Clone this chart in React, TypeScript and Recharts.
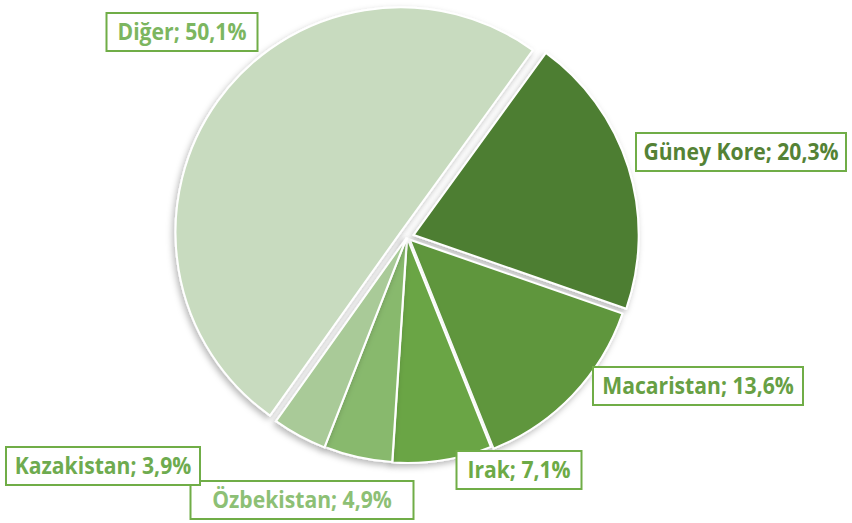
import React from "react";
import { PieChart, Pie, Cell, Sector } from "recharts";

// countries in clockwise order, starting at the top-right
const COUNTRIES = ["Güney Kore", "Macaristan", "Irak", "Özbekistan", "Kazakistan", "Diğer"];
const SHARES = [20.3, 13.6, 7.1, 4.9, 3.9, 50.1];

const SLICE_COLORS = ["#4E7E32", "#5E963C", "#6AA544", "#88B96D", "#A9CA98", "#C8DBBF"];
const TEXT_COLORS = ["#548235", "#67A044", "#6DAA46", "#8DC075", "#6EAB4F", "#7CB660"];
// how far each slice is pulled out from the centre
const EXPLODE = [7, 4, 1, 0.5, 1, 8];
// label boxes: centre offset from pie centre, box width
const LABEL_BOX = [
  { dx: 334, dy: -85, w: 210 },
  { dx: 291, dy: 149, w: 210 },
  { dx: 112, dy: 233, w: 125 },
  { dx: -105, dy: 263, w: 223 },
  { dx: -304, dy: 229, w: 194 },
  { dx: -225, dy: -205, w: 151 },
];
// Open Sans is wider than the original Calibri, so squeeze it a bit
const TEXT_SCALE_X = 0.92;

const data = COUNTRIES.map((name, i) => ({ name, value: SHARES[i] }));
const RADIAN = Math.PI / 180;

const sliceIndex = (props: any) => {
  const n = props.name ?? props.payload?.name;
  const i = COUNTRIES.indexOf(n);
  return i >= 0 ? i : props.index ?? 0;
};

const ExplodedSector = (props: any) => {
  const i = sliceIndex(props);
  const off = EXPLODE[i] ?? 0;
  const dx = off * Math.cos(-props.midAngle * RADIAN);
  const dy = off * Math.sin(-props.midAngle * RADIAN);
  return (
    <Sector
      {...props}
      cx={props.cx + dx}
      cy={props.cy + dy}
      filter="url(#pieShadow)"
    />
  );
};

const renderLabel = (props: any) => {
  const i = sliceIndex(props);
  const box = LABEL_BOX[i];
  const x = props.cx + box.dx;
  const y = props.cy + box.dy;
  const text = `${COUNTRIES[i]}; ${SHARES[i].toFixed(1).replace(".", ",")}%`;
  return (
    <g key={`lbl-${i}`}>
      <rect
        x={x - box.w / 2}
        y={y - 19}
        width={box.w}
        height={38}
        fill="#ffffff"
        stroke="#70AD47"
        strokeWidth={2}
      />
      <text
        x={0}
        y={0}
        transform={`translate(${x},${y + 8}) scale(${TEXT_SCALE_X},1)`}
        textAnchor="middle"
        fill={TEXT_COLORS[i]}
        fontFamily="'Open Sans', sans-serif"
        fontWeight={700}
        fontSize={23}
      >
        {text}
      </text>
    </g>
  );
};

const App = () => {
  return (
    <div style={{ position: "absolute", left: 0, top: 0, background: "#fff" }}>
      <PieChart width={852} height={523} margin={{ top: 0, right: 0, bottom: 0, left: 0 }}>
        <defs>
          <filter id="pieShadow" x="-20%" y="-20%" width="140%" height="140%">
            <feDropShadow dx="-2" dy="3" stdDeviation="3" floodColor="#000" floodOpacity="0.28" />
          </filter>
        </defs>
        <Pie
          data={data}
          dataKey="value"
          nameKey="name"
          cx={407}
          cy={237}
          outerRadius={225}
          startAngle={54}
          endAngle={-306}
          stroke="#ffffff"
          strokeWidth={2}
          shape={ExplodedSector}
          inactiveShape={ExplodedSector}
          activeShape={ExplodedSector}
          label={renderLabel}
          labelLine={false}
          isAnimationActive={false}
        >
          {data.map((_, index) => (
            <Cell key={`cell-${index}`} fill={SLICE_COLORS[index]} />
          ))}
        </Pie>
      </PieChart>
    </div>
  );
};

export default App;
